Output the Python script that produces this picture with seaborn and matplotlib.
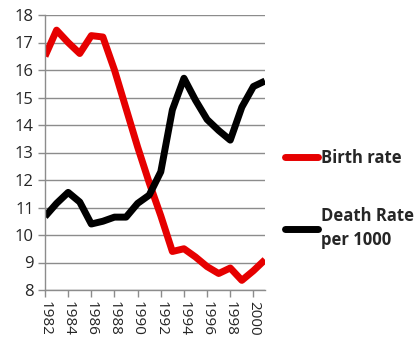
import matplotlib
matplotlib.use("Agg")
import matplotlib.pyplot as plt
import seaborn as sns
import pandas as pd
from matplotlib.lines import Line2D

years = list(range(1982, 2002))
birth_rate = [16.5, 17.45, 17.0, 16.6, 17.25, 17.2, 16.0, 14.6, 13.2, 11.9,
              10.7, 9.4, 9.5, 9.2, 8.85, 8.6, 8.8, 8.35, 8.7, 9.1]
death_rate = [10.67, 11.15, 11.55, 11.2, 10.4, 10.5, 10.65, 10.65, 11.15, 11.45,
              12.3, 14.55, 15.7, 14.9, 14.2, 13.8, 13.45, 14.65, 15.4, 15.6]
series_labels = ["Birth rate", "Death Rate\nper 1000"]
yticks = list(range(8, 19))
xticks = list(range(1982, 2002, 2))

sns.set_style("white")
plt.rcParams['font.family'] = ['Open Sans', 'DejaVu Sans']

df = pd.DataFrame({
    "year": years * 2,
    "value": birth_rate + death_rate,
    "series": [series_labels[0]] * len(years) + [series_labels[1]] * len(years),
})

fig = plt.figure(figsize=(4.17, 3.54), dpi=100)
ax = fig.add_axes([45/417, 1 - 290/354, 220/417, 275/354])

sns.lineplot(data=df, x="year", y="value", hue="series",
             palette={series_labels[0]: "#e60000", series_labels[1]: "#000000"},
             linewidth=5, ax=ax, legend=False, sort=False)
for line in ax.lines:
    line.set_solid_joinstyle("round")
    line.set_solid_capstyle("butt")

ax.set_xlim(1982, 2001)
ax.set_ylim(8, 18)
ax.set_yticks(yticks)
ax.set_xticks(xticks)
ax.set_xticklabels([str(x) for x in xticks], rotation=-90, fontsize=11)
ax.set_yticklabels([str(y) for y in yticks], fontsize=12)
ax.set_xlabel("")
ax.set_ylabel("")
ax.yaxis.grid(True, color="#8c8c8c", linewidth=1)
ax.xaxis.grid(False)
ax.set_axisbelow(True)
for side in ["top", "right"]:
    ax.spines[side].set_visible(False)
for side in ["left", "bottom"]:
    ax.spines[side].set_color("#8c8c8c")
    ax.spines[side].set_linewidth(1)
ax.tick_params(axis="both", which="both", length=5, color="#8c8c8c", width=1,
               direction="out", left=True, bottom=True, pad=3)

handles = [Line2D([0], [0], color="#e60000", lw=5),
           Line2D([0], [0], color="#000000", lw=5)]
leg = fig.legend(handles, series_labels, loc="upper left",
                 bbox_to_anchor=(270/417, 1 - 134/354), frameon=False,
                 handlelength=2.0, handletextpad=0.15, labelspacing=2.4,
                 prop={"weight": "bold", "size": 12})
for t in leg.get_texts():
    t.set_linespacing(1.45)

fig.savefig("out.png", dpi=100)
